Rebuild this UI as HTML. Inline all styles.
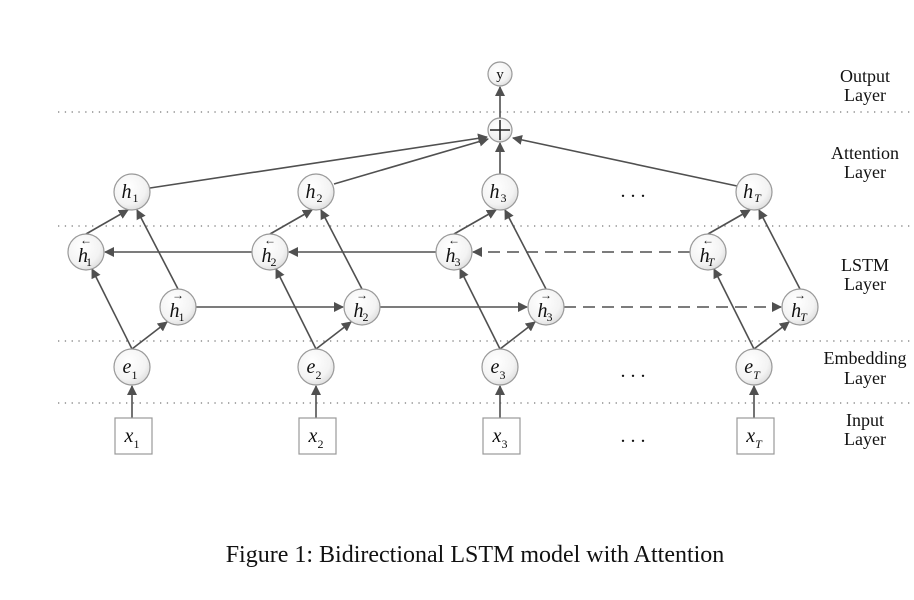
<!DOCTYPE html>
<html><head><meta charset="utf-8"><style>
html,body{margin:0;padding:0;background:#fff;width:914px;height:600px;overflow:hidden}
svg{display:block}
.t{font-family:"Liberation Serif",serif;fill:#111}
.lbl{font-family:"Liberation Serif",serif;font-size:18px;fill:#111;text-anchor:middle}
.n{fill:url(#g);stroke:#999;stroke-width:1.2}
.v{font-family:"Liberation Serif",serif;font-style:italic;font-size:20px;fill:#111;text-anchor:middle}
.s{font-size:12px;font-style:normal}
.si{font-size:12px;font-style:italic}
.ln{stroke:#505050;stroke-width:1.6;fill:none;marker-end:url(#a)}
.d{stroke-dasharray:12,7}
.dot{stroke:#777;stroke-width:1.3;stroke-dasharray:1.3,5.5}
</style></head><body>
<svg width="914" height="600" viewBox="0 0 914 600" xmlns="http://www.w3.org/2000/svg">
<defs>
<radialGradient id="g" cx="40%" cy="35%" r="70%"><stop offset="0" stop-color="#fff"/><stop offset="0.7" stop-color="#f3f3f3"/><stop offset="1" stop-color="#dcdcdc"/></radialGradient>
<marker id="a" viewBox="0 0 10 10" refX="9" refY="5" markerWidth="10" markerHeight="10" markerUnits="userSpaceOnUse" orient="auto"><path d="M0,0 L10,5 L0,10 z" fill="#505050"/></marker>
</defs>
<line class="dot" x1="58" y1="112" x2="914" y2="112"/>
<line class="dot" x1="58" y1="226" x2="914" y2="226"/>
<line class="dot" x1="58" y1="341" x2="914" y2="341"/>
<line class="dot" x1="58" y1="403" x2="914" y2="403"/>

<g id="lines"></g>

<line class="ln" x1="500" y1="118" x2="500" y2="87"/>
<line class="ln" x1="150" y1="188" x2="487" y2="137"/>
<line class="ln" x1="334" y1="184" x2="488" y2="139"/>
<line class="ln" x1="500" y1="174" x2="500" y2="143"/>
<line class="ln" x1="737" y1="186" x2="513" y2="138"/>
<circle class="n" cx="500" cy="74" r="12"/><text class="t" x="500" y="79" font-size="15" text-anchor="middle">y</text>
<circle class="n" cx="500" cy="130" r="12"/>
<line x1="490" y1="130" x2="510" y2="130" stroke="#222" stroke-width="1.5"/><line x1="500" y1="120" x2="500" y2="140" stroke="#222" stroke-width="1.5"/>

<text class="t" x="633" y="197" font-size="20" text-anchor="middle">. . .</text>
<text class="t" x="633" y="377" font-size="20" text-anchor="middle">. . .</text>
<text class="t" x="633" y="442" font-size="20" text-anchor="middle">. . .</text>

<text class="lbl" x="865" y="82">Output</text><text class="lbl" x="865" y="101">Layer</text>
<text class="lbl" x="865" y="159">Attention</text><text class="lbl" x="865" y="178">Layer</text>
<text class="lbl" x="865" y="271">LSTM</text><text class="lbl" x="865" y="290">Layer</text>
<text class="lbl" x="865" y="364">Embedding</text><text class="lbl" x="865" y="384">Layer</text>
<text class="lbl" x="865" y="426">Input</text><text class="lbl" x="865" y="445">Layer</text>

<text class="t" x="475" y="562" font-size="24" text-anchor="middle">Figure 1: Bidirectional LSTM model with Attention</text>

<g>
<circle class="n" cx="132" cy="192" r="18"/><text class="v" x="130" y="198">h<tspan class="s" dx="1" dy="4">1</tspan></text>
<circle class="n" cx="316" cy="192" r="18"/><text class="v" x="314" y="198">h<tspan class="s" dx="1" dy="4">2</tspan></text>
<circle class="n" cx="500" cy="192" r="18"/><text class="v" x="498" y="198">h<tspan class="s" dx="1" dy="4">3</tspan></text>
<circle class="n" cx="754" cy="192" r="18"/><text class="v" x="752" y="198">h<tspan class="si" dx="1" dy="4">T</tspan></text>

<circle class="n" cx="86" cy="252" r="18"/><text class="v" x="85" y="262">h<tspan class="s" dx="-2" dy="4">1</tspan></text><text class="t" x="86" y="244" font-size="12" text-anchor="middle">←</text>
<circle class="n" cx="270" cy="252" r="18"/><text class="v" x="269" y="262">h<tspan class="s" dx="-1" dy="4">2</tspan></text><text class="t" x="270" y="244" font-size="12" text-anchor="middle">←</text>
<circle class="n" cx="454" cy="252" r="18"/><text class="v" x="453" y="262">h<tspan class="s" dx="-1" dy="4">3</tspan></text><text class="t" x="454" y="244" font-size="12" text-anchor="middle">←</text>
<circle class="n" cx="708" cy="252" r="18"/><text class="v" x="707" y="262">h<tspan class="si" dx="-2" dy="4">T</tspan></text><text class="t" x="708" y="244" font-size="12" text-anchor="middle">←</text>

<circle class="n" cx="178" cy="307" r="18"/><text class="v" x="177" y="317">h<tspan class="s" dx="-1" dy="4">1</tspan></text><text class="t" x="178" y="299" font-size="12" text-anchor="middle">→</text>
<circle class="n" cx="362" cy="307" r="18"/><text class="v" x="361" y="317">h<tspan class="s" dx="-1" dy="4">2</tspan></text><text class="t" x="362" y="299" font-size="12" text-anchor="middle">→</text>
<circle class="n" cx="546" cy="307" r="18"/><text class="v" x="545" y="317">h<tspan class="s" dx="-1" dy="4">3</tspan></text><text class="t" x="546" y="299" font-size="12" text-anchor="middle">→</text>
<circle class="n" cx="800" cy="307" r="18"/><text class="v" x="799" y="317">h<tspan class="si" dx="-1" dy="4">T</tspan></text><text class="t" x="800" y="299" font-size="12" text-anchor="middle">→</text>

<circle class="n" cx="132" cy="367" r="18"/><text class="v" x="130" y="373" font-size="24">e<tspan class="s" font-size="14" dy="6">1</tspan></text>
<circle class="n" cx="316" cy="367" r="18"/><text class="v" x="314" y="373" font-size="24">e<tspan class="s" font-size="14" dy="6">2</tspan></text>
<circle class="n" cx="500" cy="367" r="18"/><text class="v" x="498" y="373" font-size="24">e<tspan class="s" font-size="14" dy="6">3</tspan></text>
<circle class="n" cx="754" cy="367" r="18"/><text class="v" x="752" y="373" font-size="24">e<tspan class="si" font-size="14" dy="6">T</tspan></text>

<rect x="115" y="418" width="37" height="36" fill="#fff" stroke="#999" stroke-width="1.2"/><text class="v" x="132" y="442" font-size="24">x<tspan class="s" font-size="14" dy="6">1</tspan></text>
<rect x="299" y="418" width="37" height="36" fill="#fff" stroke="#999" stroke-width="1.2"/><text class="v" x="316" y="442" font-size="24">x<tspan class="s" font-size="14" dy="6">2</tspan></text>
<rect x="483" y="418" width="37" height="36" fill="#fff" stroke="#999" stroke-width="1.2"/><text class="v" x="500" y="442" font-size="24">x<tspan class="s" font-size="14" dy="6">3</tspan></text>
<rect x="737" y="418" width="37" height="36" fill="#fff" stroke="#999" stroke-width="1.2"/><text class="v" x="754" y="442" font-size="24">x<tspan class="si" font-size="14" dy="6">T</tspan></text>
</g>
</svg>
<script>
var C=[132,316,500,754],B=[86,270,454,708],F=[178,362,546,800],s='';
function L(x1,y1,x2,y2,d){s+='<line class="ln'+(d?' d':'')+'" x1="'+x1+'" y1="'+y1+'" x2="'+x2+'" y2="'+y2+'"/>';}
for(var i=0;i<4;i++){var c=C[i],b=B[i],f=F[i];
L(c,349,b+6,269);L(c,349,f-11,322);L(b,234,c-4,210);L(f,289,c+5,210);L(c,418,c,386);
if(i<3){L(B[i+1]-18,252,b+19,252,i==2);L(f+18,307,F[i+1]-19,307,i==2);}}
document.getElementById('lines').innerHTML=s;
</script>
</body></html>
